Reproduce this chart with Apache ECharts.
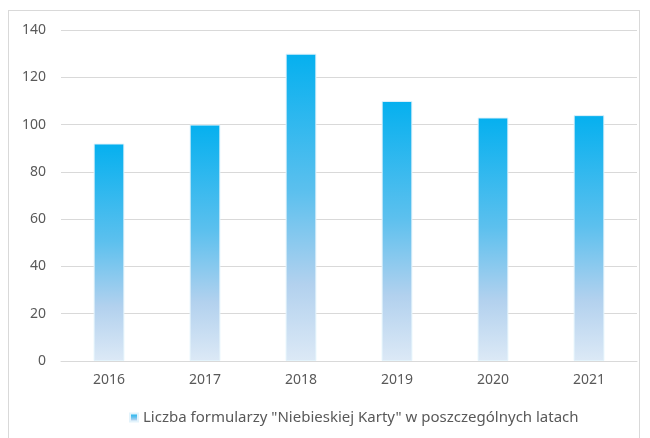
<!DOCTYPE html>
<html>
<head>
<meta charset="utf-8">
<script src="https://cdn.jsdelivr.net/npm/echarts@6/dist/echarts.min.js"></script>
<style>
  html, body { margin: 0; padding: 0; background: #fff; }
  #frame { position: absolute; left: 8px; top: 10px; width: 632px; height: 440px; border: 1px solid #d9d9d9; box-sizing: border-box; }
  #chart { position: absolute; left: 0; top: 0; width: 650px; height: 438px; }
</style>
</head>
<body>
<div id="frame"></div>
<div id="chart"></div>
<script>
  var years = ['2016', '2017', '2018', '2019', '2020', '2021'];
  var counts = [92, 100, 130, 110, 103, 104];
  var seriesName = 'Liczba formularzy "Niebieskiej Karty" w poszczególnych latach';

  var barGradient = new echarts.graphic.LinearGradient(0, 0, 0, 1, [
    { offset: 0, color: '#05b0ef' },
    { offset: 0.45, color: '#5cc0ee' },
    { offset: 0.75, color: '#b2d1ee' },
    { offset: 1, color: '#dce9f6' }
  ]);

  var chart = echarts.init(document.getElementById('chart'), null, { renderer: 'canvas' });
  chart.setOption({
    animation: false,
    textStyle: { fontFamily: 'Noto Sans', color: '#595959' },
    grid: { left: 61, right: 13, top: 30, bottom: 77 },
    legend: {
      bottom: 8,
      left: 124,
      icon: 'rect',
      itemWidth: 8,
      itemHeight: 8,
      itemGap: 5,
      textStyle: { fontSize: 15, color: '#595959', fontFamily: 'Noto Sans' },
      data: [seriesName]
    },
    xAxis: {
      type: 'category',
      data: years,
      axisLine: { lineStyle: { color: '#d9d9d9' } },
      axisTick: { show: false },
      axisLabel: { fontSize: 14, color: '#595959', margin: 12 }
    },
    yAxis: {
      type: 'value',
      min: 0,
      max: 140,
      interval: 20,
      axisLine: { show: false },
      axisTick: { show: false },
      axisLabel: { fontSize: 14, color: '#595959', margin: 15 },
      splitLine: { lineStyle: { color: '#d9d9d9' } }
    },
    series: [{
      name: seriesName,
      type: 'bar',
      data: counts,
      barWidth: '32%',
      itemStyle: { color: barGradient, borderColor: '#e3f3fb', borderWidth: 1 }
    }]
  });
</script>
</body>
</html>
